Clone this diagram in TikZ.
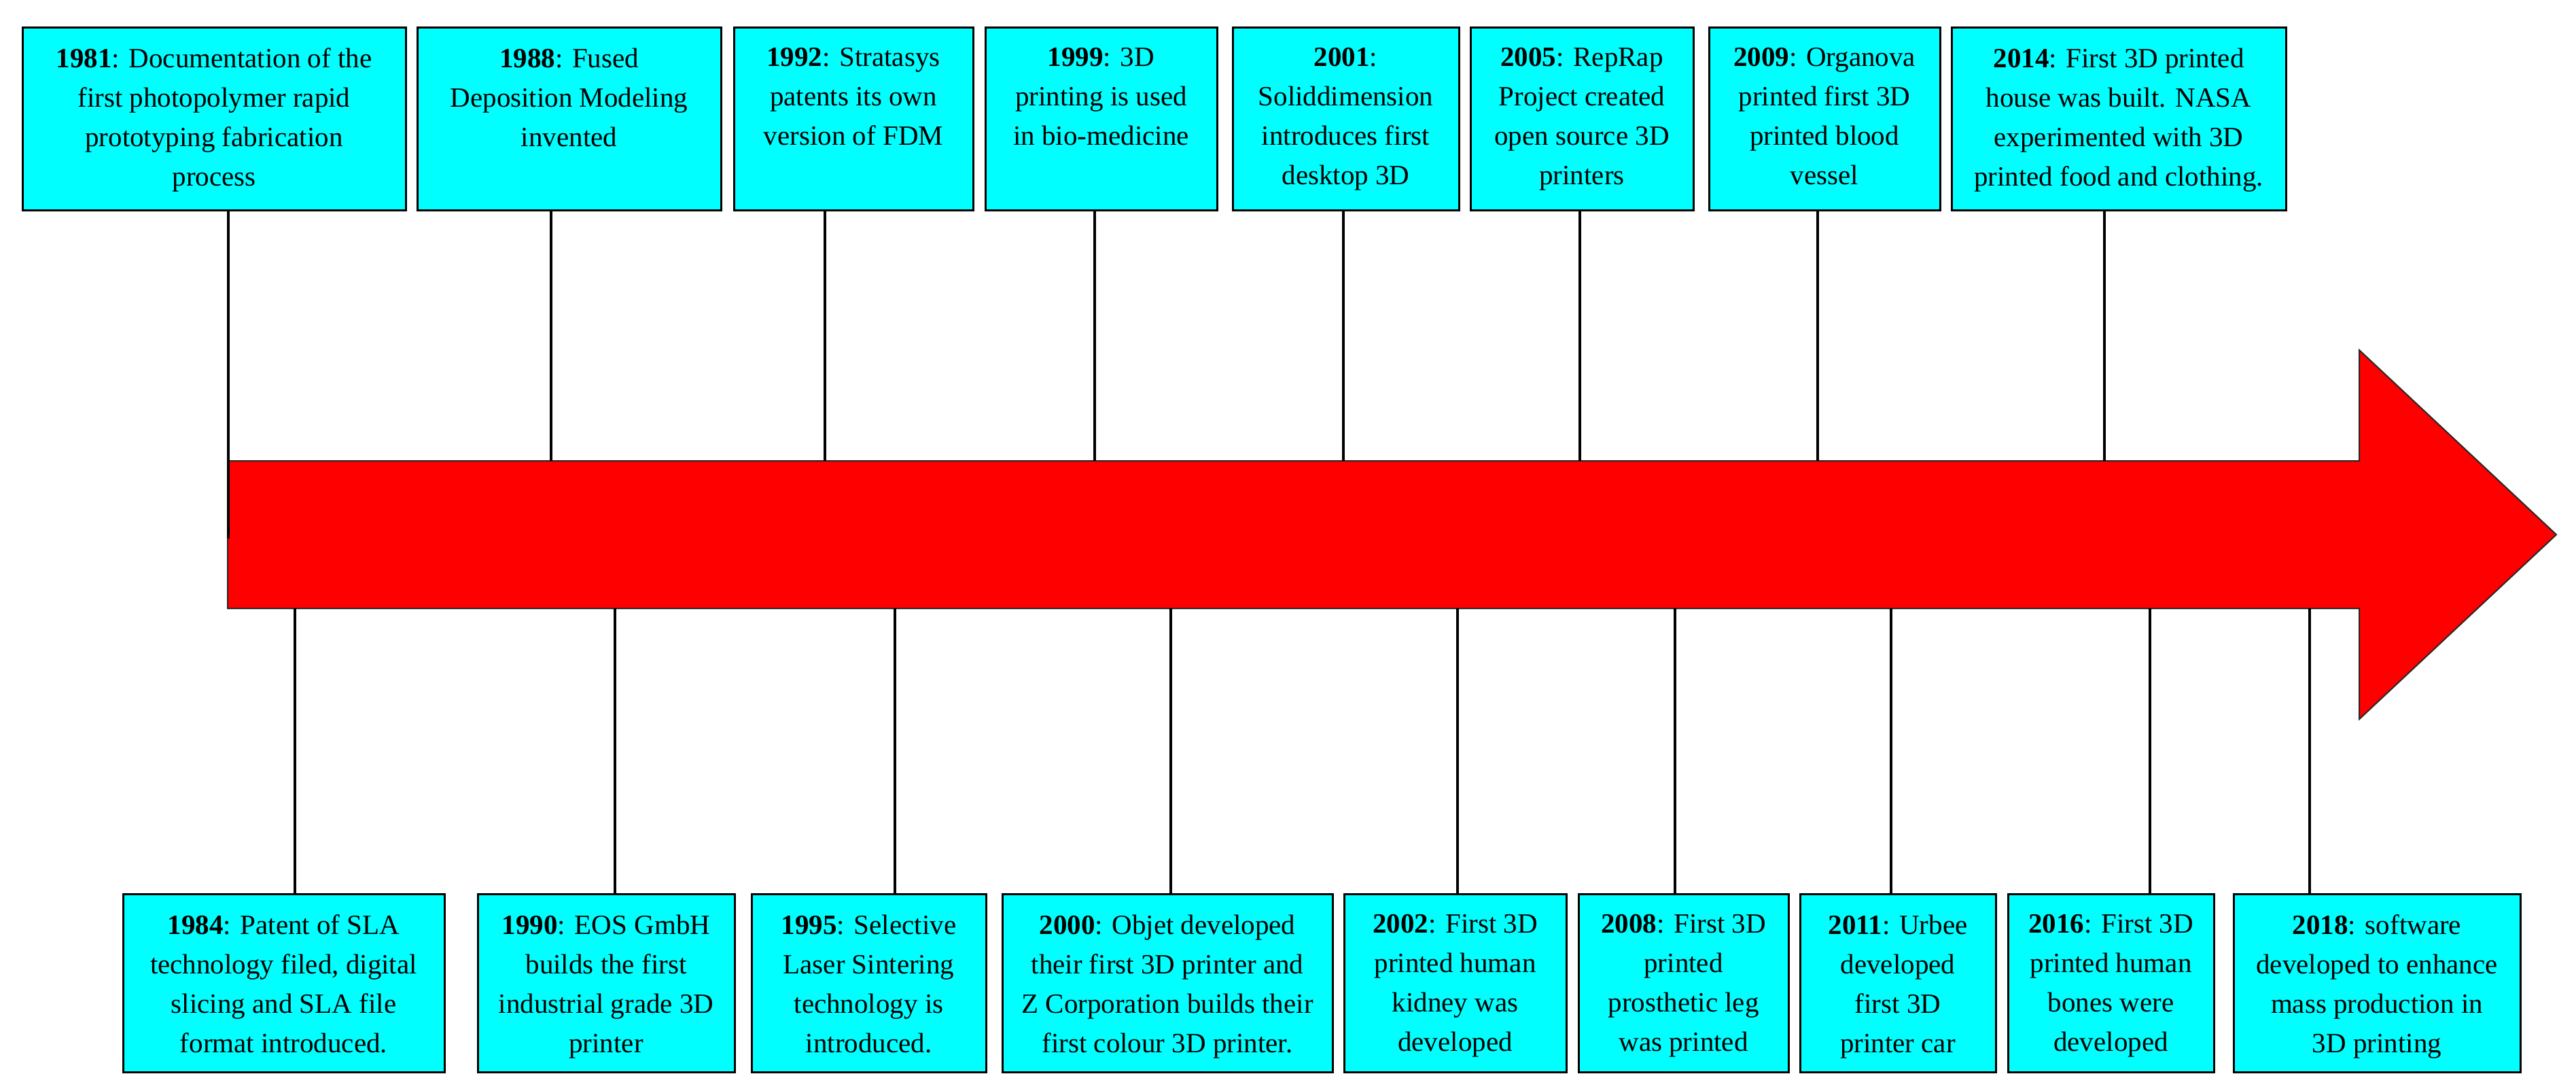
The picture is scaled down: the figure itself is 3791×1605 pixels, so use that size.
\documentclass[tikz,border=0pt]{standalone}
\usepackage{fontspec}
\setmainfont{Liberation Serif}
\definecolor{evcyan}{RGB}{0,255,255}
\definecolor{evred}{RGB}{255,0,0}
\tikzset{
  evbox/.style={draw=black, line width=3pt, fill=evcyan, inner sep=0pt},
  evtext/.style={align=center, inner sep=0pt, anchor=north, font=\fontsize{41}{58}\selectfont},
  link/.style={line width=4.5pt, draw=black},
  bigarrow/.style={fill=evred, draw=black!85, line width=2pt, line join=miter}
}
\newcommand\tlTopEvent[4]{%
  \node[evbox, minimum width=#3pt, minimum height=269pt] (b#1) at (#2,175.5) {};
  \node[evtext] (t#1) at ([yshift=-31pt]b#1.north) {#4};
}
\newcommand\tlBotEvent[4]{%
  \node[evbox, minimum width=#3pt, minimum height=262pt] (b#1) at (#2,1446) {};
  \node[evtext] (t#1) at ([yshift=-32pt]b#1.north) {#4};
}
\begin{document}
\begin{tikzpicture}[x=1pt, y=-1pt]
\useasboundingbox (0,0) rectangle (3791,1605);
\fill[white] (0,0) rectangle (3791,1605);

% big arrow
\draw[bigarrow] (335,678) -- (3472,678) -- (3472,515) -- (3762,786.5) -- (3472,1058) -- (3472,895) -- (335,895) -- cycle;

% top events
\tlTopEvent{1981}{315}{564}{\textbf{1981}: Documentation of the\\ first photopolymer rapid\\ prototyping fabrication\\ process}
\tlTopEvent{1988}{837.5}{447}{\textbf{1988}: Fused\\ Deposition Modeling\\ invented}
\tlTopEvent{1992}{1256}{352}{\textbf{1992}: Stratasys\\ patents its own\\ version of FDM}
\tlTopEvent{1999}{1620.5}{341}{\textbf{1999}: 3D\\ printing is used\\ in bio-medicine}
\tlTopEvent{2001}{1980.5}{333}{\textbf{2001}:\\ Soliddimension\\ introduces first\\ desktop 3D}
\tlTopEvent{2005}{2328}{328}{\textbf{2005}: RepRap\\ Project created\\ open source 3D\\ printers}
\tlTopEvent{2009}{2685}{340}{\textbf{2009}: Organova\\ printed first 3D\\ printed blood\\ vessel}
\tlTopEvent{2014}{3118}{492}{\textbf{2014}: First 3D printed\\ house was built. NASA\\ experimented with 3D\\ printed food and clothing.}

% bottom events
\tlBotEvent{1984}{417.5}{473}{\textbf{1984}: Patent of SLA\\ technology filed, digital\\ slicing and SLA file\\ format introduced.}
\tlBotEvent{1990}{892}{378}{\textbf{1990}: EOS GmbH\\ builds the first\\ industrial grade 3D\\ printer}
\tlBotEvent{1995}{1278.5}{345}{\textbf{1995}: Selective\\ Laser Sintering\\ technology is\\ introduced.}
\tlBotEvent{2000}{1718}{486}{\textbf{2000}: Objet developed\\ their first 3D printer and\\ Z Corporation builds their\\ first colour 3D printer.}
\tlBotEvent{2002}{2141.5}{327}{\textbf{2002}: First 3D\\ printed human\\ kidney was\\ developed}
\tlBotEvent{2008}{2477.5}{309}{\textbf{2008}: First 3D\\ printed\\ prosthetic leg\\ was printed}
\tlBotEvent{2011}{2793}{288}{\textbf{2011}: Urbee\\ developed\\ first 3D\\ printer car}
\tlBotEvent{2016}{3106.5}{303}{\textbf{2016}: First 3D\\ printed human\\ bones were\\ developed}
\tlBotEvent{2018}{3498}{422}{\textbf{2018}: software\\ developed to enhance\\ mass production in\\ 3D printing}

% connector end points on the arrow
\coordinate (a1981) at (336,792);
\coordinate (a1988) at (811,678);
\coordinate (a1992) at (1214,678);
\coordinate (a1999) at (1611,678);
\coordinate (a2001) at (1977,678);
\coordinate (a2005) at (2325,678);
\coordinate (a2009) at (2675,678);
\coordinate (a2014) at (3097,678);

\coordinate (a1984) at (434,895);
\coordinate (a1990) at (905,895);
\coordinate (a1995) at (1317,895);
\coordinate (a2000) at (1723,895);
\coordinate (a2002) at (2145,895);
\coordinate (a2008) at (2465,895);
\coordinate (a2011) at (2783,895);
\coordinate (a2016) at (3164,895);
\coordinate (a2018) at (3399,895);

\foreach \y in {1981,1988,1992,1999,2001,2005,2009,2014}
  \draw[link] (b\y.south -| a\y) -- (a\y);
\foreach \y in {1984,1990,1995,2000,2002,2008,2011,2016,2018}
  \draw[link] (a\y) -- (a\y |- b\y.north);
\end{tikzpicture}
\end{document}
